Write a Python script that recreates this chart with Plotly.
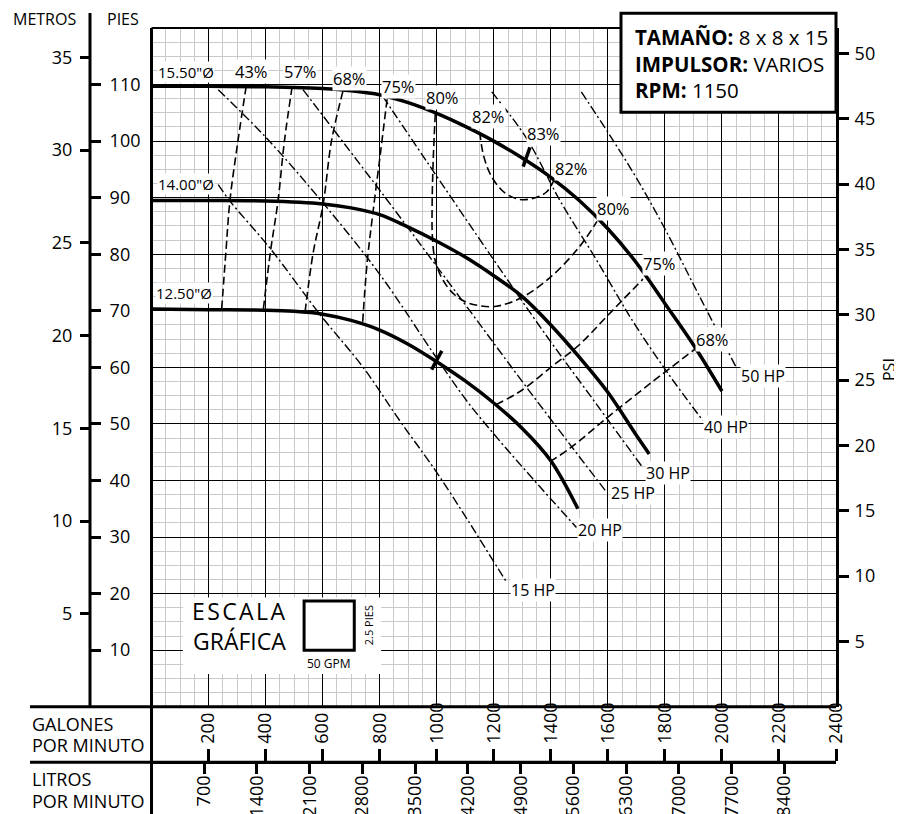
import plotly.graph_objects as go

# ---- impeller curves: flow (GPM) vs head (ft) ----
gpm_1550 = [0, 200, 400, 500, 600, 700, 800, 900, 1000, 1100, 1200, 1300, 1400, 1500, 1600, 1700, 1800, 1900, 2000]
ft_1550 = [109.7, 109.7, 109.6, 109.5, 109.3, 108.9, 108.2, 106.8, 104.9, 102.6, 100.0, 97.0, 93.6, 89.5, 84.5, 78.5, 71.3, 64.0, 55.8]
gpm_1400 = [0, 200, 400, 600, 700, 800, 900, 1000, 1100, 1200, 1300, 1400, 1500, 1600, 1700, 1745]
ft_1400 = [89.5, 89.5, 89.4, 88.9, 88.2, 87.0, 84.8, 82.3, 79.5, 76.2, 72.5, 67.5, 61.8, 55.6, 48.0, 44.7]
gpm_1250 = [0, 200, 400, 500, 600, 700, 800, 900, 1000, 1100, 1200, 1300, 1400, 1495]
ft_1250 = [70.3, 70.2, 70.1, 69.9, 69.4, 68.3, 66.6, 64.1, 61.0, 57.6, 53.7, 49.2, 43.5, 35.0]

# ---- efficiency lines ----
eff_43_gpm = [332, 303, 275, 261, 246]
eff_43_ft = [109.7, 100, 89.5, 80.5, 70.3]
eff_57_gpm = [493, 466, 443, 418, 392]
eff_57_ft = [109.6, 100, 89.2, 80.8, 70.2]
eff_68_gpm = [671, 631, 602, 566, 538]
eff_68_ft = [108.8, 100, 88.9, 80, 69.6]
eff_75_gpm = [826, 802, 776, 756, 740]
eff_75_ft = [107.4, 97.6, 87.2, 78.5, 67.7]
eff_80_gpm = [995, 988, 984, 985, 995, 1020, 1055, 1100, 1150, 1209, 1300, 1400, 1500, 1562]
eff_80_ft = [104.8, 97, 89, 83, 78.8, 75.6, 73.2, 71.6, 70.9, 70.8, 72.4, 76, 81.3, 85.8]
eff_82_gpm = [1151, 1165, 1195, 1240, 1290, 1340, 1385, 1413]
eff_82_ft = [101.6, 97.3, 93.5, 90.8, 89.7, 89.9, 91.0, 93.3]
eff_75r_gpm = [1208, 1300, 1400, 1500, 1600, 1723]
eff_75r_ft = [53.4, 56.0, 60.0, 64.0, 69.2, 75.6]
eff_68r_gpm = [1396, 1470, 1595, 1750, 1905]
eff_68r_ft = [43.3, 45.8, 51.0, 57.2, 63.2]

# best efficiency marks
bep_1550_gpm = [1303, 1327]
bep_1550_ft = [95.5, 98.9]
bep_1250_gpm = [982, 1018]
bep_1250_ft = [59.6, 62.9]

# ---- horsepower lines ----
hp_15_gpm = [234, 275, 415, 590, 742, 870, 1011, 1245]
hp_15_ft = [92.3, 89.4, 81.1, 69.4, 60.0, 50.6, 40.6, 22.0]
hp_20_gpm = [234, 404, 596, 801, 999, 1105, 1221, 1337, 1490]
hp_20_ft = [109.1, 100.5, 89.4, 76.4, 61.7, 54.1, 47.0, 40.3, 31.7]
hp_25_gpm = [531, 811, 1091, 1337, 1596]
hp_25_ft = [109.1, 90.6, 71.7, 55.0, 37.9]
hp_30_gpm = [811, 965, 1196, 1386, 1560, 1722]
hp_30_ft = [107.9, 96.4, 79.3, 65.5, 53.5, 42.3]
hp_40_gpm = [1193, 1315, 1431, 1560, 1687, 1810, 1933]
hp_40_ft = [108.7, 100.5, 89.6, 79.0, 68.2, 59.0, 50.6]
hp_50_gpm = [1507, 1606, 1700, 1800, 1922, 2050]
hp_50_ft = [108.7, 101.1, 93.5, 84.5, 72.5, 60.0]

# ---- labels ----
dia_text = ['15.50"Ø', '14.00"Ø', '12.50"Ø']
dia_gpm = [18, 18, 12]
dia_ft = [112.3, 92.5, 73.1]

eff_text = ["43%", "57%", "68%", "75%", "80%", "82%", "83%", "82%", "80%", "75%", "68%"]
eff_gpm = [352, 522, 694, 865, 1022, 1180, 1373, 1473, 1619, 1782, 1968]
eff_ft = [112.3, 112.3, 111.1, 109.6, 107.7, 104.4, 101.3, 95.1, 88.0, 78.3, 65.0]

hp_text = ["15 HP", "20 HP", "25 HP", "30 HP", "40 HP", "50 HP"]
hp_gpm = [1256, 1491, 1607, 1729, 1932, 2062]
hp_ft = [20.6, 31.3, 37.8, 41.4, 49.5, 58.4]

# ---- axis ticks ----
gpm_ticks = [200, 400, 600, 800, 1000, 1200, 1400, 1600, 1800, 2000, 2200, 2400]
lpm_ticks = [700, 1400, 2100, 2800, 3500, 4200, 4900, 5600, 6300, 7000, 7700, 8400]
ft_ticks = [10, 20, 30, 40, 50, 60, 70, 80, 90, 100, 110]
m_ticks = [5, 10, 15, 20, 25, 30, 35]
psi_ticks = [5, 10, 15, 20, 25, 30, 35, 40, 45, 50]

FT_MAX = 120
GPM_MAX = 2400
FONT = "Open Sans"

# page layout helpers (the page body has an 8px margin)
OFF = 8
W, H = 902 - OFF, 814 - OFF
ML, MR, MT, MB = 0, 902 - 836, 28 - OFF, 0
PW, PH = W - ML - MR, H - MT - MB


def px(x):
    return (x - OFF - ML) / PW


def py(y):
    return (814 - y) / PH


X0 = px(151.5)   # left edge of the grid
Y0 = py(706.7)   # bottom edge of the grid
Y2 = py(762.3)   # line between GPM and LPM bands
XM = px(90)      # metros / pies axis

fig = go.Figure()

for gx, gy in [(gpm_1550, ft_1550), (gpm_1400, ft_1400), (gpm_1250, ft_1250)]:
    fig.add_trace(go.Scatter(x=gx, y=gy, mode="lines", line=dict(color="black", width=3.5, shape="spline")))

for gx, gy in [(eff_43_gpm, eff_43_ft), (eff_57_gpm, eff_57_ft), (eff_68_gpm, eff_68_ft),
               (eff_75_gpm, eff_75_ft), (eff_80_gpm, eff_80_ft), (eff_82_gpm, eff_82_ft),
               (eff_75r_gpm, eff_75r_ft), (eff_68r_gpm, eff_68r_ft)]:
    fig.add_trace(go.Scatter(x=gx, y=gy, mode="lines",
                             line=dict(color="black", width=1.6, dash="8px,4px", shape="spline")))

for gx, gy in [(hp_15_gpm, hp_15_ft), (hp_20_gpm, hp_20_ft), (hp_25_gpm, hp_25_ft),
               (hp_30_gpm, hp_30_ft), (hp_40_gpm, hp_40_ft), (hp_50_gpm, hp_50_ft)]:
    fig.add_trace(go.Scatter(x=gx, y=gy, mode="lines",
                             line=dict(color="black", width=1.4, dash="9px,3px,2px,3px", shape="spline")))

for gx, gy in [(bep_1550_gpm, bep_1550_ft), (bep_1250_gpm, bep_1250_ft)]:
    fig.add_trace(go.Scatter(x=gx, y=gy, mode="lines", line=dict(color="black", width=3.5)))

# dummy traces so the extra axes get drawn
for xa, ya in [("x2", "y"), ("x3", "y"), ("x", "y2"), ("x", "y3"), ("x", "y4")]:
    fig.add_trace(go.Scatter(x=[None], y=[None], xaxis=xa, yaxis=ya, hoverinfo="skip"))

annotations = []
for t, gx, gy in zip(dia_text, dia_gpm, dia_ft):
    annotations.append(dict(x=gx, y=gy, text=t, xanchor="left",
                            font=dict(size=15), bgcolor="white", borderpad=0))
for t, gx, gy in zip(eff_text, eff_gpm, eff_ft):
    annotations.append(dict(x=gx, y=gy, text=t,
                            font=dict(size=16.5), bgcolor="white", borderpad=0))
for t, gx, gy in zip(hp_text, hp_gpm, hp_ft):
    annotations.append(dict(x=gx, y=gy, text=t, xanchor="left",
                            font=dict(size=16), bgcolor="white", borderpad=0))

# graphic scale
annotations += [
    dict(x=307, y=17.0, text='<span style="letter-spacing:2.4px">ESCALA</span>', font=dict(size=23)),
    dict(x=307, y=11.6, text="GRÁFICA", font=dict(size=23)),
    dict(x=759, y=14.4, text="2.5 PIES", textangle=-90, font=dict(size=11)),
    dict(x=622, y=7.7, text="50 GPM", font=dict(size=12)),
]

# paper texts
annotations += [
    dict(xref="paper", yref="paper", x=px(633), y=py(64), xanchor="left",
         align="left", font=dict(size=20.5),
         text="<b>TAMAÑO:</b> 8 x 8 x 15<br><b>IMPULSOR:</b> VARIOS<br><b>RPM:</b> 1150"),
    dict(xref="paper", yref="paper", x=px(44.5), y=py(19), text="METROS", font=dict(size=16)),
    dict(xref="paper", yref="paper", x=px(123), y=py(19), text="PIES", font=dict(size=16)),
    dict(xref="paper", yref="paper", x=px(889), y=py(370), text="PSI", textangle=-90, font=dict(size=16)),
    dict(xref="paper", yref="paper", x=px(30), y=py(724), xanchor="left", text="GALONES"),
    dict(xref="paper", yref="paper", x=px(30), y=py(745), xanchor="left", text="POR MINUTO"),
    dict(xref="paper", yref="paper", x=px(30), y=py(779), xanchor="left", text="LITROS"),
    dict(xref="paper", yref="paper", x=px(30), y=py(800.5), xanchor="left", text="POR MINUTO"),
]
for a in annotations:
    a.setdefault("showarrow", False)
    a.setdefault("xanchor", "center")
    a.setdefault("yanchor", "middle")
    a.setdefault("font", dict(size=18))
    a["font"].setdefault("size", 18)
    a["font"]["color"] = "black"
    a["font"]["family"] = FONT

shapes = [
    # white area behind the graphic scale and its square
    dict(type="rect", xref="x", yref="y", x0=110, x1=805, y0=5.8, y1=19.3,
         fillcolor="white", line=dict(width=0), layer="above"),
    dict(type="rect", xref="x", yref="y", x0=535, x1=711, y0=10.0, y1=18.7,
         fillcolor="white", line=dict(color="black", width=3), layer="above"),
    # frame and bands
    dict(type="line", xref="paper", yref="paper", x0=X0, x1=X0, y0=0, y1=1, line=dict(color="black", width=3)),
    dict(type="line", xref="paper", yref="paper", x0=X0, x1=1, y0=1, y1=1, line=dict(color="black", width=2)),
    dict(type="line", xref="paper", yref="paper", x0=px(30), x1=1, y0=Y0, y1=Y0, line=dict(color="black", width=3)),
    dict(type="line", xref="paper", yref="paper", x0=px(30), x1=1, y0=Y2, y1=Y2, line=dict(color="black", width=3)),
    dict(type="line", xref="paper", yref="paper", x0=XM, x1=XM, y0=Y0, y1=py(13),
         line=dict(color="black", width=3)),
    # info box
    dict(type="rect", xref="paper", yref="paper", x0=px(621), x1=1, y0=py(112.3), y1=py(13.3),
         fillcolor="white", line=dict(color="black", width=3), layer="above"),
]

tickfont = dict(family=FONT, size=18, color="black")
common = dict(automargin=False, zeroline=False, showgrid=False, tickcolor="black", tickfont=tickfont,
              tickmode="array", ticks="outside", tickwidth=3)
fig.update_layout(
    width=W, height=H,
    margin=dict(l=ML, r=MR, t=MT, b=MB, autoexpand=False),
    paper_bgcolor="white", plot_bgcolor="white",
    showlegend=False,
    font=dict(family=FONT, color="black", size=18),
    xaxis=dict(domain=[X0, 1], range=[0, GPM_MAX], tick0=0, dtick=200, automargin=False,
               showgrid=True, gridcolor="black", gridwidth=1.3,
               minor=dict(dtick=50, showgrid=True, gridcolor="#c8c8cd", gridwidth=1),
               showticklabels=False, ticks="", zeroline=False, showline=False),
    yaxis=dict(domain=[Y0, 1], range=[0, FT_MAX], tick0=0, dtick=10, automargin=False,
               showgrid=True, gridcolor="black", gridwidth=1.3,
               minor=dict(dtick=2.5, showgrid=True, gridcolor="#c8c8cd", gridwidth=1),
               showticklabels=False, ticks="", zeroline=False, showline=False),
    xaxis2=dict(overlaying="x", anchor="free", position=Y2, side="top", range=[0, GPM_MAX],
                tickvals=gpm_ticks, ticklen=12, tickangle=-90, ticklabelstandoff=2,
                showline=True, linewidth=3, linecolor="black", **common),
    xaxis3=dict(overlaying="x", anchor="free", position=Y2, side="bottom", range=[0, GPM_MAX * 3.78541],
                tickvals=lpm_ticks, ticklen=11, tickangle=-90, ticklabelstandoff=-6,
                showline=False, **common),
    yaxis2=dict(overlaying="y", anchor="x", side="right", range=[0, FT_MAX / 2.31],
                tickvals=psi_ticks, ticklen=10, ticklabelstandoff=2,
                showline=True, linewidth=3, linecolor="black", **common),
    yaxis3=dict(overlaying="y", anchor="free", position=XM, side="left", range=[0, FT_MAX / 3.28084],
                tickvals=m_ticks, ticklen=10, ticklabelstandoff=4, showline=False, **common),
    yaxis4=dict(overlaying="y", anchor="free", position=XM, side="right", range=[0, FT_MAX],
                tickvals=ft_ticks, ticklen=10, ticklabelstandoff=5, showline=False, **common),
    annotations=annotations,
    shapes=shapes,
)

fig.write_html("out.html")
